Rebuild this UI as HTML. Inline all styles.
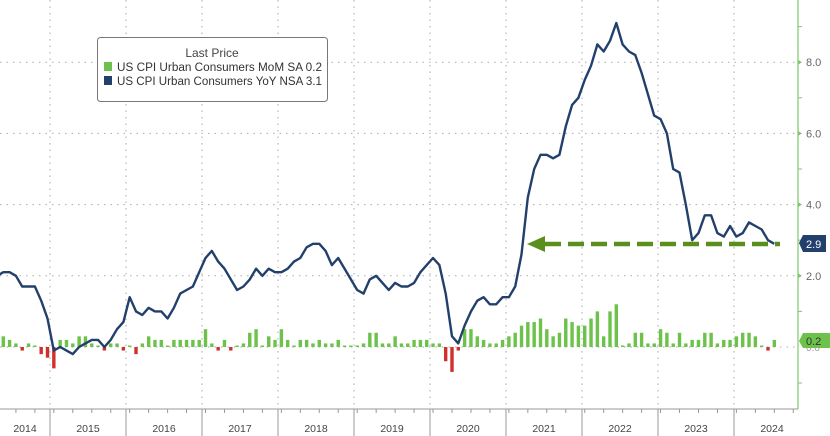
<!DOCTYPE html>
<html><head><meta charset="utf-8"><style>
body{margin:0;background:#fff;width:830px;height:436px;overflow:hidden}
svg{display:block;font-family:"Liberation Sans",sans-serif}
</style></head><body>
<svg id="s" width="830" height="436" viewBox="0 0 830 436"></svg>
<script>
const yoy=[1.6,1.1,1.5,2.0,2.1,2.1,2.0,1.7,1.7,1.7,1.3,0.8,
-0.1,0.0,-0.1,-0.2,0.0,0.1,0.2,0.2,0.0,0.2,0.5,0.7,
1.4,1.0,0.9,1.1,1.0,1.0,0.8,1.1,1.5,1.6,1.7,2.1,
2.5,2.7,2.4,2.2,1.9,1.6,1.7,1.9,2.2,2.0,2.2,2.1,
2.1,2.2,2.4,2.5,2.8,2.9,2.9,2.7,2.3,2.5,2.2,1.9,
1.6,1.5,1.9,2.0,1.8,1.6,1.8,1.7,1.7,1.8,2.1,2.3,
2.5,2.3,1.5,0.3,0.1,0.6,1.0,1.3,1.4,1.2,1.2,1.4,
1.4,1.7,2.6,4.2,5.0,5.4,5.4,5.3,5.4,6.2,6.8,7.0,
7.5,7.9,8.5,8.3,8.6,9.1,8.5,8.3,8.2,7.7,7.1,6.5,
6.4,6.0,5.0,4.9,4.0,3.0,3.2,3.7,3.7,3.2,3.1,3.4,
3.1,3.2,3.5,3.4,3.3,3.0,2.9];
const mom=[0.1,0.1,0.2,0.3,0.3,0.2,0.1,-0.1,0.1,0.0,-0.2,-0.3,
-0.6,0.2,0.2,0.1,0.3,0.3,0.1,0.0,-0.1,0.1,0.1,-0.1,
0.0,-0.2,0.1,0.3,0.2,0.2,0.0,0.2,0.2,0.2,0.2,0.2,
0.5,0.1,-0.1,0.2,-0.1,0.0,0.1,0.4,0.5,0.0,0.3,0.2,
0.5,0.2,0.0,0.2,0.2,0.1,0.2,0.1,0.1,0.2,0.0,0.0,
0.0,0.1,0.4,0.4,0.1,0.1,0.3,0.1,0.1,0.2,0.2,0.2,
0.1,0.1,-0.4,-0.7,-0.1,0.5,0.5,0.3,0.2,0.1,0.1,0.2,
0.3,0.4,0.6,0.7,0.7,0.8,0.5,0.3,0.4,0.8,0.7,0.6,
0.6,0.8,1.0,0.3,1.0,1.2,0.0,0.1,0.4,0.4,0.1,0.1,
0.5,0.4,0.1,0.4,0.1,0.2,0.2,0.4,0.4,0.1,0.2,0.2,
0.3,0.4,0.4,0.3,0.0,-0.1,0.2];
const X=i=>-22+i*6.32, Y=v=>347-35.6*v;
let h='';
[2,4,6,8].forEach(v=>{h+=`<line x1="0" x2="798" y1="${Y(v)}" y2="${Y(v)}" stroke="#aaa" stroke-dasharray="1.5,5"/>`});
h+=`<line x1="0" x2="798" y1="347" y2="347" stroke="#aaa" stroke-dasharray="1.5,5"/>`;
for(let y=0;y<10;y++){const x=50+76*y;h+=`<line x1="${x}" x2="${x}" y1="0" y2="409" stroke="#aaa" stroke-dasharray="1.5,5"/>`;
h+=`<line x1="${x}" x2="${x}" y1="409" y2="436" stroke="#999"/>`;}
mom.forEach((v,i)=>{const x=X(i)-1.7;const c=v>=0?'#6cc24a':'#d0312d';const hh=Math.max(Math.abs(v)*35.6,1.5);h+=`<rect x="${x}" y="${v>=0?347-hh:347}" width="3.4" height="${hh}" fill="${c}"/>`;});
h+=`<polyline fill="none" stroke="#22406b" stroke-width="2.4" stroke-linejoin="round" points="${yoy.map((v,i)=>X(i).toFixed(1)+','+Y(v).toFixed(1)).join(' ')}"/>`;
h+=`<line x1="545" x2="780" y1="244" y2="244" stroke="#5a8f1e" stroke-width="4.5" stroke-dasharray="16,7"/>`;
h+=`<polygon points="527,244 545,236 545,252" fill="#5a8f1e"/>`;
h+=`<line x1="798" x2="798" y1="0" y2="409" stroke="#7cc86a" stroke-width="1.2"/>`;
h+=`<line x1="0" x2="798" y1="409" y2="409" stroke="#999"/>`;
for(let i=0;i<130;i+=3){const x=X(i);if(x>0&&x<798)h+=`<line x1="${x}" x2="${x}" y1="409" y2="413" stroke="#999"/>`;}
[1,3,5,7,9].forEach(v=>{h+=`<line x1="798" x2="802" y1="${Y(v)}" y2="${Y(v)}" stroke="#7cc86a"/>`});
h+=`<line x1="798" x2="802" y1="383" y2="383" stroke="#7cc86a"/>`;
[2,4,6,8].forEach(v=>{h+=`<polygon points="798,${Y(v)-2.5} 802,${Y(v)} 798,${Y(v)+2.5}" fill="#7cc86a"/><text x="806" y="${Y(v)+4}" font-size="11" fill="#666">${v}.0</text>`});
h+=`<text x="806" y="351" font-size="10" fill="#999">0.0</text>`;
h+=`<polygon points="799,243 803,235 826,235 826,252 803,252" fill="#22406b"/><text x="806" y="248" font-size="11" fill="#fff">2.9</text>`;
h+=`<polygon points="799,341 803,333 830,333 830,348 803,348" fill="#6cc24a"/><text x="806" y="345" font-size="11" fill="#333">0.2</text>`;
const yrs=[2014,2015,2016,2017,2018,2019,2020,2021,2022,2023,2024];
yrs.forEach((y,k)=>{const x=50+76*(k-1)+38;h+=`<text x="${k==0?25:x}" y="432" font-size="10.5" fill="#444" text-anchor="middle">${y}</text>`});
h+=`<rect x="97.5" y="37.5" width="230" height="64" rx="3" fill="#fff" stroke="#777"/>`;
h+=`<text x="212" y="57" font-size="12" fill="#444" text-anchor="middle">Last Price</text>`;
h+=`<rect x="104" y="62" width="8" height="9" fill="#6cc24a"/><text x="117" y="71" font-size="11.5" fill="#333" textLength="205" lengthAdjust="spacingAndGlyphs">US CPI Urban Consumers MoM SA  0.2</text>`;
h+=`<rect x="104" y="76" width="8" height="9" fill="#22406b"/><text x="117" y="85" font-size="11.5" fill="#333" textLength="205" lengthAdjust="spacingAndGlyphs">US CPI Urban Consumers YoY NSA 3.1</text>`;
document.getElementById('s').innerHTML=h;
</script>
</body></html>
